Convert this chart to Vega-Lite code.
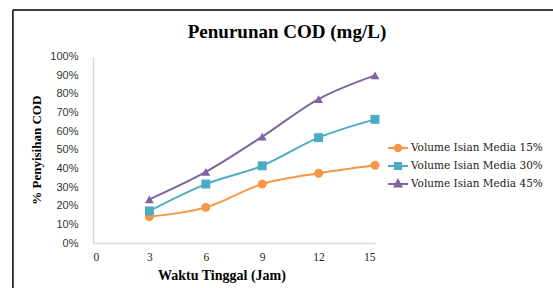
{
  "$schema": "https://vega.github.io/schema/vega-lite/v6.json",
  "autosize": "none",
  "width": 282,
  "height": 186.5,
  "padding": {"left": 93, "top": 56.5, "right": 178, "bottom": 45},
  "background": "white",
  "config": {
    "view": {"stroke": null},
    "title": {"font": "Liberation Serif", "fontSize": 19, "fontWeight": "bold", "color": "black"}
  },
  "title": {"text": "Penurunan COD (mg/L)", "anchor": "middle", "dx": 53, "offset": -51.5, "baseline": "bottom"},
  "data": {"values": [
    {"t": 3, "s": "Volume Isian Media 15%", "v": 0.141},
    {"t": 6, "s": "Volume Isian Media 15%", "v": 0.191},
    {"t": 9, "s": "Volume Isian Media 15%", "v": 0.316},
    {"t": 12, "s": "Volume Isian Media 15%", "v": 0.374},
    {"t": 15, "s": "Volume Isian Media 15%", "v": 0.417},
    {"t": 3, "s": "Volume Isian Media 30%", "v": 0.172},
    {"t": 6, "s": "Volume Isian Media 30%", "v": 0.316},
    {"t": 9, "s": "Volume Isian Media 30%", "v": 0.414},
    {"t": 12, "s": "Volume Isian Media 30%", "v": 0.565},
    {"t": 15, "s": "Volume Isian Media 30%", "v": 0.663},
    {"t": 3, "s": "Volume Isian Media 45%", "v": 0.234},
    {"t": 6, "s": "Volume Isian Media 45%", "v": 0.381},
    {"t": 9, "s": "Volume Isian Media 45%", "v": 0.57},
    {"t": 12, "s": "Volume Isian Media 45%", "v": 0.772},
    {"t": 15, "s": "Volume Isian Media 45%", "v": 0.899}
  ]},
  "encoding": {
    "x": {"field": "t", "type": "quantitative",
      "scale": {"domain": [0, 15], "nice": false},
      "axis": {"values": [0, 3, 6, 9, 12, 15], "grid": false, "ticks": false, "domainColor": "#D9D9D9", "domainWidth": 1.5,
        "labelFont": "Liberation Serif", "labelFontSize": 11.5, "labelColor": "#222", "labelPadding": 8,
        "title": "Waktu Tinggal (Jam)", "titleFont": "Liberation Serif", "titleFontSize": 14, "titleFontWeight": "bold", "titleColor": "black", "titlePadding": 6, "titleX": 128.5}},
    "y": {"field": "v", "type": "quantitative",
      "scale": {"domain": [0, 1], "nice": false},
      "axis": {"values": [0, 0.1, 0.2, 0.3, 0.4, 0.5, 0.6, 0.7, 0.8, 0.9, 1], "format": ".0%", "grid": false, "ticks": false, "domainColor": "#D9D9D9", "domainWidth": 1.5,
        "labelFont": "Liberation Sans", "labelFontSize": 11, "labelColor": "#333", "labelPadding": 15,
        "title": "% Penyisihan COD", "titleFont": "Liberation Serif", "titleFontSize": 13, "titleFontWeight": "bold", "titleColor": "black", "titlePadding": 6}},
    "color": {"field": "s", "type": "nominal",
      "scale": {"range": ["#F79646", "#4BACC6", "#8064A2"]},
      "legend": {"title": null, "orient": "none", "legendX": 294, "legendY": 80.5, "symbolSize": 400, "symbolStrokeWidth": 1.8, "symbolOpacity": 1, "rowPadding": -1, "padding": 0, "labelOffset": 2,
        "labelFont": "DejaVu Serif", "labelFontSize": 10.5, "labelColor": "#222",
        "encode": {"symbols": {"update": {
          "shape": {"signal": "datum.value === 'Volume Isian Media 15%' ? 'M-1,0H1M-0.34,0A0.34,0.34,0,1,0,0.34,0A0.34,0.34,0,1,0,-0.34,0Z' : datum.value === 'Volume Isian Media 30%' ? 'M-1,0H1M-0.32,-0.32H0.32V0.32H-0.32Z' : 'M-1,0H1M0,-0.4L0.36,0.26H-0.36Z'"},
          "fill": {"signal": "scale('color', datum.value)"},
          "stroke": {"signal": "scale('color', datum.value)"},
          "opacity": {"value": 1}
        }}}}}
  },
  "layer": [
    {
      "transform": [{"filter": "datum.t === 3 && datum.s === 'Volume Isian Media 15%'"}],
      "mark": {"type": "rule", "strokeWidth": 1.5, "clip": false},
      "encoding": {
        "x": {"datum": -4.26, "type": "quantitative"},
        "y": {"datum": 1.249, "type": "quantitative"},
        "y2": {"datum": -0.6},
        "color": {"value": "black"}
      }
    },
    {
      "transform": [{"filter": "datum.t === 3 && datum.s === 'Volume Isian Media 15%'"}],
      "mark": {"type": "rule", "strokeWidth": 1.5, "clip": false},
      "encoding": {
        "y": {"datum": 1.249, "type": "quantitative"},
        "x": {"datum": -4.26, "type": "quantitative"},
        "x2": {"datum": 40},
        "color": {"value": "black"}
      }
    },
    {
      "mark": {"type": "line", "interpolate": "monotone", "strokeWidth": 2}
    },
    {
      "mark": {"type": "point", "filled": true, "opacity": 1},
      "encoding": {
        "shape": {"field": "s", "type": "nominal", "scale": {"range": ["circle", "square", "triangle-up"]}, "legend": null},
        "size": {"value": 80}
      }
    }
  ]
}
